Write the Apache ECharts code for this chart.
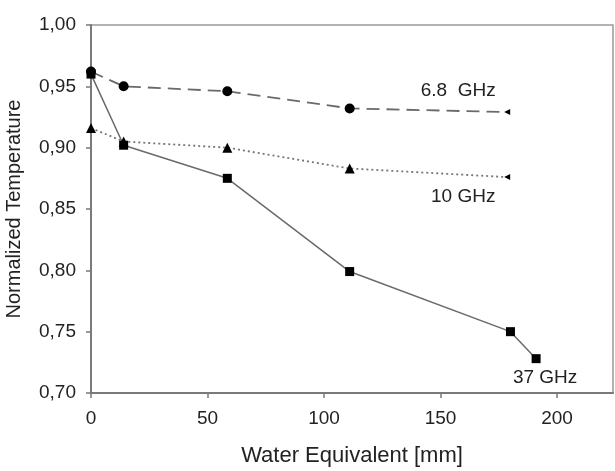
<!DOCTYPE html>
<html>
<head>
<meta charset="utf-8">
<script src="https://cdn.jsdelivr.net/npm/echarts@6/dist/echarts.min.js"></script>
<style>
  html, body { margin: 0; padding: 0; background: #fff; }
  #chart { width: 615px; height: 471px; }
</style>
</head>
<body>
<div id="chart"></div>
<script>
// values
const xGHz68 = [0, 14, 58.5, 111, 178.6];
const yGHz68 = [0.962, 0.950, 0.946, 0.932, 0.929];
const xGHz10 = [0, 14, 58.5, 111, 178.6];
const yGHz10 = [0.916, 0.905, 0.900, 0.883, 0.876];
const xGHz37 = [0, 14, 58.5, 111, 180, 191];
const yGHz37 = [0.960, 0.902, 0.875, 0.799, 0.750, 0.728];
const seriesNames = ['6.8  GHz', '10 GHz', '37 GHz'];

const font = 'Liberation Sans, Arial, sans-serif';

// pair x,y arrays; the 6.8 and 10 GHz end points get a tiny marker
function pairs(xs, ys, smallLast) {
  return xs.map((x, i) => {
    const item = { value: [x, ys[i]] };
    if (smallLast && i === xs.length - 1) {
      item.symbol = 'triangle';
      item.symbolSize = 6;
      item.symbolRotate = 90;
    }
    return item;
  });
}

const chart = echarts.init(document.getElementById('chart'));

const d68 = pairs(xGHz68, yGHz68, true);
d68[d68.length - 1].label = { show: true, formatter: seriesNames[0], position: 'top', offset: [-49, -4] };
const d10 = pairs(xGHz10, yGHz10, true);
d10[d10.length - 1].label = { show: true, formatter: seriesNames[1], position: 'bottom', offset: [-44, 2] };
const d37 = pairs(xGHz37, yGHz37, false);
d37[d37.length - 1].label = { show: true, formatter: seriesNames[2], position: 'bottom', offset: [9, 0] };

const labelStyle = { color: '#222', fontSize: 19, fontFamily: font };

chart.setOption({
  animation: false,
  backgroundColor: '#fff',
  grid: {
    left: 91, top: 25, right: 2, bottom: 78,
    outerBoundsMode: 'none',
    containLabel: false,
    show: true, borderColor: '#999', borderWidth: 1.5
  },
  xAxis: {
    type: 'value',
    min: 0, max: 224, interval: 50,
    name: 'Water Equivalent [mm]',
    nameLocation: 'middle', nameGap: 52,
    nameTextStyle: { color: '#222', fontSize: 22, fontFamily: font },
    axisLine: { show: true, onZero: false, lineStyle: { color: '#7a7a7a', width: 2 } },
    axisTick: { show: true, length: 5, lineStyle: { color: '#7a7a7a', width: 1.5 } },
    axisLabel: {
      color: '#222', fontSize: 19, fontFamily: font, margin: 16,
      showMaxLabel: false,
      formatter: v => (v % 50 === 0 ? String(v) : '')
    },
    splitLine: { show: false }
  },
  yAxis: {
    type: 'value',
    min: 0.70, max: 1.00, interval: 0.05,
    name: 'Normalized Temperature',
    nameLocation: 'middle', nameGap: 67,
    nameTextStyle: { color: '#222', fontSize: 20, fontFamily: font },
    axisLine: { show: true, lineStyle: { color: '#7a7a7a', width: 2 } },
    axisTick: { show: true, length: 5, lineStyle: { color: '#7a7a7a', width: 1.5 } },
    axisLabel: {
      color: '#222', fontSize: 19, fontFamily: font, margin: 15,
      formatter: v => v.toFixed(2).replace('.', ',')
    },
    splitLine: { show: false }
  },
  series: [
    {
      name: seriesNames[0], type: 'line', data: d68,
      symbol: 'circle', symbolSize: 10,
      itemStyle: { color: '#000' },
      lineStyle: { color: '#6a6a6a', width: 1.8, type: [13, 7] },
      label: labelStyle
    },
    {
      name: seriesNames[1], type: 'line', data: d10,
      symbol: 'triangle', symbolSize: 10,
      itemStyle: { color: '#000' },
      lineStyle: { color: '#777', width: 1.8, type: [2, 3] },
      label: labelStyle
    },
    {
      name: seriesNames[2], type: 'line', data: d37,
      symbol: 'rect', symbolSize: 9,
      itemStyle: { color: '#000' },
      lineStyle: { color: '#6a6a6a', width: 1.5, type: 'solid' },
      label: labelStyle
    }
  ]
});
</script>
</body>
</html>
